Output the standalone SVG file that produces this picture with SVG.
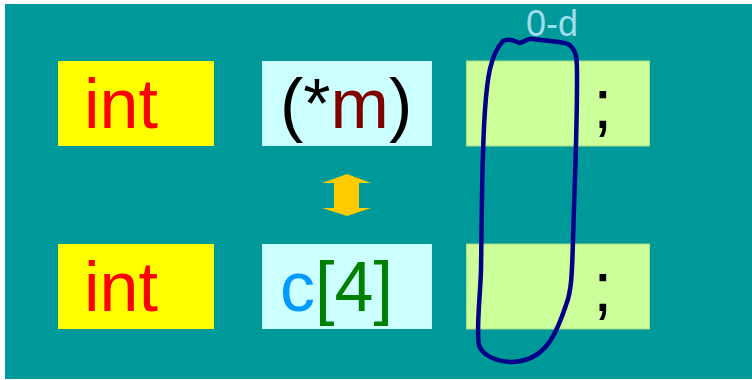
<svg xmlns="http://www.w3.org/2000/svg" width="752" height="380" viewBox="0 0 752 380">
<style>
text{font-family:"Liberation Sans",Arial,sans-serif}
.big{font-size:70px}
.yel{fill:#ffff00}
.cyan{fill:#ccffff}
.grn{fill:#ccff99;stroke:#a8e08c;stroke-width:1}
</style>
<rect x="5" y="4" width="747" height="375" fill="#009999"/>
<g id="int1"><rect class="yel" x="58" y="61" width="156" height="85"/><text class="big" x="84" y="128" fill="#ff0000">int</text></g>
<g id="ptr"><rect class="cyan" x="262" y="61" width="170" height="85"/><text class="big" x="280" y="128"><tspan fill="#000">(*</tspan><tspan fill="#800000">m</tspan><tspan fill="#000">)</tspan></text></g>
<g id="box1"><rect class="grn" x="466.5" y="61" width="183" height="85"/><text class="big" x="593" y="128" fill="#000">;</text></g>
<g id="int2"><rect class="yel" x="58" y="244" width="156" height="85"/><text class="big" x="84" y="311" fill="#ff0000">int</text></g>
<g id="arr"><rect class="cyan" x="262" y="244" width="170" height="85"/><text class="big" x="280" y="311"><tspan fill="#0099ff">c</tspan><tspan fill="#008000">[4]</tspan></text></g>
<g id="box2"><rect class="grn" x="466.5" y="244" width="183" height="85"/><text class="big" x="593" y="311" fill="#000">;</text></g>
<g id="connectors">
<polygon points="347,174 371,183 359,183 359,208 371,208 347,216 322,208 334,208 334,183 322,183" fill="#ffcc00"/>
<path d="M503,41 C510,37 516,42 520,43 C525,41 528,38 533,39 C545,41 560,41 568,44 C578,50 577,62 577,80 C577,140 574,200 573,240 C572,270 572,290 566,305 C556,335 545,362 510,362 C495,361 482,355 479,345 C476,330 480,300 481,270 C482,200 482,150 485,110 C487,80 490,55 503,41 Z" fill="none" stroke="#000088" stroke-width="4.5"/>
<text x="526" y="36" font-size="36" fill="#a0dcee">0-d</text>
</g>
</svg>
